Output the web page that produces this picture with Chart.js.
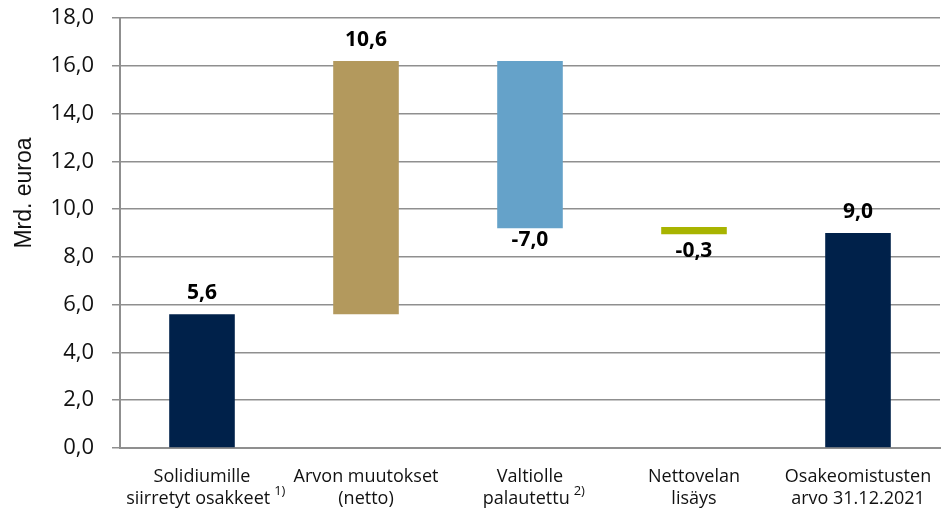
<!DOCTYPE html>
<html>
<head>
<meta charset="utf-8">
<script src="https://cdn.jsdelivr.net/npm/chart.js@4"></script>
<style>
html,body{margin:0;padding:0;background:#fff;}
#wrap{width:945px;height:513px;position:relative;}
</style>
</head>
<body>
<div id="wrap"><canvas id="c" width="945" height="513"></canvas></div>
<script>
const categoryLines = [
  ["Solidiumille", "siirretyt osakkeet"],
  ["Arvon muutokset", "(netto)"],
  ["Valtiolle", "palautettu"],
  ["Nettovelan", "lisäys"],
  ["Osakeomistusten", "arvo 31.12.2021"]
];
const footnotes = ["1)", "", "2)", "", ""];
const barStart = [0, 5.6, 9.2, 8.95, 0];
const barEnd   = [5.6, 16.2, 16.2, 9.25, 9.0];
const valueLabels = ["5,6", "10,6", "-7,0", "-0,3", "9,0"];
const labelBelow = [false, false, true, true, false];
const barColors = ["#00214A", "#B3995D", "#65A2C9", "#A8B400", "#00214A"];
const yTicks = [0, 2, 4, 6, 8, 10, 12, 14, 16, 18];
const yTitle = "Mrd. euroa";

const FONT = "'Open Sans', sans-serif";

const textPlugin = {
  id: 'texts',
  afterDraw(chart) {
    const ctx = chart.ctx;
    const meta = chart.getDatasetMeta(0);
    const xs = chart.scales.x;
    const area = chart.chartArea;
    ctx.save();
    ctx.font = "bold 21px " + FONT;
    ctx.fillStyle = "#000";
    ctx.textAlign = "center";
    ctx.textBaseline = "middle";
    meta.data.forEach((bar, i) => {
      const top = Math.min(bar.y, bar.base);
      const bottom = Math.max(bar.y, bar.base);
      let y;
      if (labelBelow[i]) {
        y = bottom + (bottom - top < 10 ? 17 : 12);
      } else {
        y = top - 21;
      }
      ctx.fillText(valueLabels[i], bar.x, y);
    });
    const lineH = 22;
    const firstY = area.bottom + 29;
    categoryLines.forEach((lines, i) => {
      const cx = xs.getPixelForValue(i);
      lines.forEach((line, j) => {
        const y = firstY + j * lineH;
        ctx.font = "18px " + FONT;
        ctx.fillStyle = "#111";
        const isLast = j === lines.length - 1;
        const fn = isLast ? footnotes[i] : "";
        const w = ctx.measureText(line).width;
        let fw = 0;
        if (fn) {
          ctx.font = "13px " + FONT;
          fw = ctx.measureText(fn).width + 4;
        }
        const left = cx - (w + fw) / 2 + (fn ? fw / 4 : 0);
        ctx.font = "18px " + FONT;
        ctx.textAlign = "left";
        ctx.fillText(line, left, y);
        if (fn) {
          ctx.font = "13px " + FONT;
          ctx.fillText(fn, left + w + 4, y - 8);
        }
      });
    });
    ctx.font = "23px 'Liberation Sans', Arial, sans-serif";
    ctx.fillStyle = "#111";
    ctx.textAlign = "center";
    ctx.textBaseline = "middle";
    ctx.translate(25, 193);
    ctx.rotate(-Math.PI / 2);
    ctx.fillText(yTitle, 0, 0);
    ctx.restore();
  }
};

new Chart(document.getElementById('c'), {
  type: 'bar',
  data: {
    labels: categoryLines.map(l => l.join(' ')),
    datasets: [{
      data: barStart.map((s, i) => [s, barEnd[i]]),
      backgroundColor: barColors,
      borderWidth: 0,
      barPercentage: 0.4,
      categoryPercentage: 1.0
    }]
  },
  options: {
    responsive: false,
    animation: false,
    layout: { autoPadding: false, padding: { top: 18, right: 5, left: 0, bottom: 0 } },
    plugins: { legend: { display: false }, tooltip: { enabled: false } },
    scales: {
      x: {
        grid: { display: false, drawTicks: false },
        border: { display: true, color: '#8f8f8f', width: 2 },
        ticks: { display: false },
        afterFit(scale) { scale.height = 65; scale.paddingTop = 0; scale.paddingBottom = 0; }
      },
      y: {
        min: 0, max: 18,
        afterBuildTicks(scale) { scale.ticks = yTicks.map(v => ({ value: v })); },
        grid: { color: '#8f8f8f', lineWidth: 1.5, tickLength: 8, drawTicks: true, tickColor: '#8f8f8f' },
        border: { display: true, color: '#8f8f8f', width: 2 },
        ticks: {
          color: '#111',
          font: { family: FONT, size: 22 },
          padding: 18,
          callback: (v) => v.toFixed(1).replace('.', ',')
        },
        afterFit(scale) { scale.width = 120; scale.paddingTop = 0; scale.paddingBottom = 0; }
      }
    }
  },
  plugins: [textPlugin]
});
</script>
</body>
</html>
